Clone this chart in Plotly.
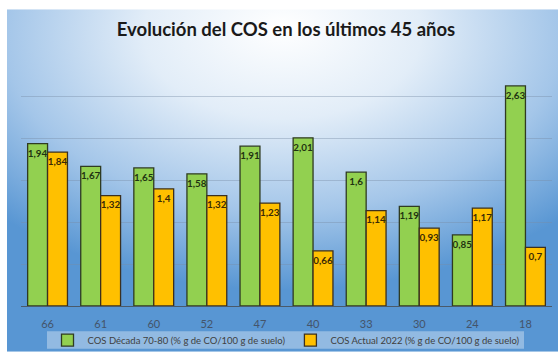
import base64
import plotly.graph_objects as go

categories = ["66", "61", "60", "52", "47", "40", "33", "30", "24", "18"]
cos_7080 = [1.94, 1.67, 1.65, 1.58, 1.91, 2.01, 1.6, 1.19, 0.85, 2.63]
cos_2022 = [1.84, 1.32, 1.4, 1.32, 1.23, 0.66, 1.14, 0.93, 1.17, 0.7]
name_7080 = "COS Década 70-80 (% g de CO/100 g de suelo)"
name_2022 = "COS Actual 2022 (% g de CO/100 g de suelo)"
title_text = "Evolución del COS en los últimos 45 años"


def fmt(v):
    s = ("%g" % v).replace(".", ",")
    return s


svg = (
    '<svg xmlns="http://www.w3.org/2000/svg" width="551" height="352" '
    'viewBox="0 0 551 352" preserveAspectRatio="none">'
    '<defs><radialGradient id="g" cx="50%" cy="10%" r="72%" fx="50%" fy="5%">'
    '<stop offset="0%" stop-color="#ffffff"/>'
    '<stop offset="35%" stop-color="#e2edf8"/>'
    '<stop offset="70%" stop-color="#a4c6e9"/>'
    '<stop offset="100%" stop-color="#5896d3"/>'
    '</radialGradient></defs>'
    '<rect width="551" height="352" fill="url(#g)"/></svg>'
)
src = "data:image/svg+xml;base64," + base64.b64encode(svg.encode()).decode()

W, H = 558, 360
ml, mr, mt, mb = 21, 6, 55, 47
pw = W - ml - mr
ph = H - mt - mb


def px(x):
    return (x - ml) / pw


def py(y):
    return (H - mb - y) / ph


fig = go.Figure()
fig.add_trace(go.Bar(
    x=categories, y=cos_7080, name=name_7080,
    marker=dict(color="#92D050", line=dict(color="#2f3b22", width=1.3)),
    text=[fmt(v) for v in cos_7080], textposition="inside",
    insidetextanchor="end", textangle=0,
    textfont=dict(size=10, color="#1f3310", family="Lato", weight="bold"),
))
fig.add_trace(go.Bar(
    x=categories, y=cos_2022, name=name_2022,
    marker=dict(color="#FFC000", line=dict(color="#3b3020", width=1.3)),
    text=[fmt(v) for v in cos_2022], textposition="inside",
    insidetextanchor="end", textangle=0,
    textfont=dict(size=10, color="#3a2a05", family="Lato", weight="bold"),
))

fig.update_layout(
    width=W, height=H,
    margin=dict(l=ml, r=mr, t=mt, b=mb),
    paper_bgcolor="white",
    plot_bgcolor="rgba(0,0,0,0)",
    barmode="group", bargap=0.25, bargroupgap=0,
    uniformtext=dict(minsize=9, mode="show"),
    font=dict(family="Lato", color="#404040"),
    title=dict(text="<b>" + title_text + "</b>", x=(286) / W, xanchor="center",
               y=1 - 30 / H, yanchor="middle",
               font=dict(size=18.5, color="#1a1a1a", family="Lato")),
    xaxis=dict(showgrid=False, showline=True, linecolor="#4a5a6a", linewidth=1.2,
               tickfont=dict(size=11, color="#44546a"), ticks="",
               ticklabelstandoff=8),
    yaxis=dict(range=[0, 3], dtick=0.5, showticklabels=False,
               gridcolor="rgba(120,140,165,0.4)", gridwidth=1,
               zeroline=False, showline=False),
    legend=dict(orientation="h", x=0.5, xanchor="center", y=py(348),
                yanchor="middle", bgcolor="rgba(0,0,0,0)",
                font=dict(size=9.5, color="#404040"), traceorder="normal",
                itemwidth=30),
    images=[dict(source=src, xref="paper", yref="paper",
                 x=px(7), y=py(8), sizex=px(558) - px(7), sizey=py(8) - py(360),
                 xanchor="left", yanchor="top", sizing="stretch",
                 layer="below")],
    shapes=[dict(type="rect", xref="paper", yref="paper",
                 x0=px(47), x1=px(524), y0=py(357), y1=py(339),
                 fillcolor="rgba(255,255,255,0.35)", line=dict(width=0),
                 layer="below")],
)

fig.write_html("out.html")
